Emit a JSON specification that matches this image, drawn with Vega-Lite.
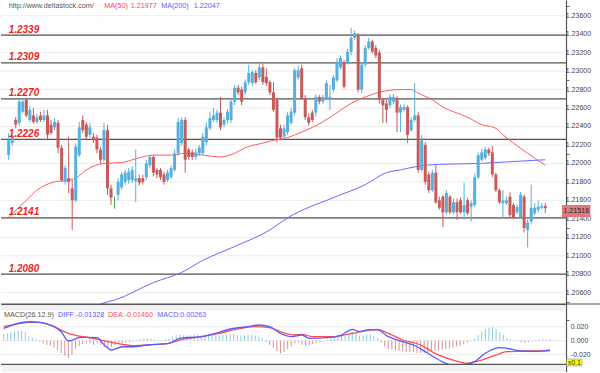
{
"$schema": "https://vega.github.io/schema/vega-lite/v6.json",
"background": "white",
"padding": 0,
"spacing": 0,
"bounds": "flush",
"config": {"view": {"stroke": null}, "font": "Liberation Sans", "axis": {"labelFont": "Liberation Sans", "labelOverlap": false}},
"datasets": {
"one": [{}],
"yticks": [
{"v":1.206,"lbl":"1.20600"},{"v":1.208,"lbl":"1.20800"},{"v":1.210,"lbl":"1.21000"},{"v":1.212,"lbl":"1.21200"},{"v":1.214,"lbl":"1.21400"},{"v":1.216,"lbl":"1.21600"},{"v":1.218,"lbl":"1.21800"},{"v":1.220,"lbl":"1.22000"},{"v":1.222,"lbl":"1.22200"},{"v":1.224,"lbl":"1.22400"},{"v":1.226,"lbl":"1.22600"},{"v":1.228,"lbl":"1.22800"},{"v":1.230,"lbl":"1.23000"},{"v":1.232,"lbl":"1.23200"},{"v":1.234,"lbl":"1.23400"},{"v":1.236,"lbl":"1.23600"}
],
"mticks": [
{"v":0.02,"lbl":"0.020"},{"v":0,"lbl":"0.000"},{"v":-0.02,"lbl":"-0.020"}
],
"candles": [
{"t":0,"o":1.2209,"h":1.2233,"l":1.2204,"c":1.2225,"m":0.010},
{"t":1,"o":1.2222,"h":1.2234,"l":1.2219,"c":1.2229,"m":0.011},
{"t":2,"o":1.2247,"h":1.2250,"l":1.2238,"c":1.2242,"m":0.012},
{"t":3,"o":1.2244,"h":1.2269,"l":1.2241,"c":1.2267,"m":0.013},
{"t":4,"o":1.2256,"h":1.2271,"l":1.2254,"c":1.2267,"m":0.014},
{"t":5,"o":1.2269,"h":1.2271,"l":1.2250,"c":1.2252,"m":0.014},
{"t":6,"o":1.2247,"h":1.2262,"l":1.2245,"c":1.2258,"m":0.012},
{"t":7,"o":1.2252,"h":1.2260,"l":1.2243,"c":1.2245,"m":0.006},
{"t":8,"o":1.2245,"h":1.2254,"l":1.2243,"c":1.2250,"m":0.004},
{"t":9,"o":1.2252,"h":1.2256,"l":1.2245,"c":1.2247,"m":0.002},
{"t":10,"o":1.2247,"h":1.2258,"l":1.2245,"c":1.2252,"m":-0.001},
{"t":11,"o":1.2252,"h":1.2258,"l":1.2225,"c":1.2231,"m":-0.004},
{"t":12,"o":1.2242,"h":1.2247,"l":1.2231,"c":1.2233,"m":-0.006},
{"t":13,"o":1.2239,"h":1.2249,"l":1.2236,"c":1.2245,"m":-0.007},
{"t":14,"o":1.2244,"h":1.2247,"l":1.2211,"c":1.2217,"m":-0.010},
{"t":15,"o":1.2217,"h":1.2220,"l":1.2180,"c":1.2182,"m":-0.014},
{"t":16,"o":1.2180,"h":1.2198,"l":1.2177,"c":1.2195,"m":-0.018},
{"t":17,"o":1.2184,"h":1.2229,"l":1.2168,"c":1.2180,"m":-0.022},
{"t":18,"o":1.2173,"h":1.2182,"l":1.2128,"c":1.2160,"m":-0.025},
{"t":19,"o":1.2160,"h":1.2222,"l":1.2158,"c":1.2218,"m":-0.020},
{"t":20,"o":1.2209,"h":1.2245,"l":1.2207,"c":1.2239,"m":-0.012},
{"t":21,"o":1.2247,"h":1.2252,"l":1.2233,"c":1.2236,"m":-0.008},
{"t":22,"o":1.2242,"h":1.2245,"l":1.2225,"c":1.2229,"m":-0.005},
{"t":23,"o":1.2231,"h":1.2244,"l":1.2228,"c":1.2239,"m":-0.004},
{"t":24,"o":1.2229,"h":1.2233,"l":1.2222,"c":1.2225,"m":-0.004},
{"t":25,"o":1.2228,"h":1.2231,"l":1.2211,"c":1.2215,"m":-0.006},
{"t":26,"o":1.2215,"h":1.2218,"l":1.2200,"c":1.2204,"m":-0.004},
{"t":27,"o":1.2204,"h":1.2244,"l":1.2202,"c":1.2236,"m":-0.006},
{"t":28,"o":1.2236,"h":1.2242,"l":1.2166,"c":1.2173,"m":-0.009},
{"t":29,"o":1.2173,"h":1.2177,"l":1.2155,"c":1.2163,"m":-0.011},
{"t":30,"o":1.2157,"h":1.2164,"l":1.2151,"c":1.2157,"m":-0.009},
{"t":31,"o":1.2166,"h":1.2184,"l":1.2160,"c":1.2180,"m":-0.007},
{"t":32,"o":1.2174,"h":1.2191,"l":1.2171,"c":1.2188,"m":-0.005},
{"t":33,"o":1.2180,"h":1.2193,"l":1.2177,"c":1.2190,"m":-0.004},
{"t":34,"o":1.2182,"h":1.2195,"l":1.2178,"c":1.2191,"m":-0.003},
{"t":35,"o":1.2182,"h":1.2197,"l":1.2179,"c":1.2193,"m":-0.002},
{"t":36,"o":1.2181,"h":1.2215,"l":1.2158,"c":1.2184,"m":-0.001},
{"t":37,"o":1.2184,"h":1.2188,"l":1.2176,"c":1.2179,"m":0.001},
{"t":38,"o":1.2184,"h":1.2188,"l":1.2177,"c":1.2180,"m":0.002},
{"t":39,"o":1.2185,"h":1.2204,"l":1.2182,"c":1.2200,"m":0.004},
{"t":40,"o":1.2198,"h":1.2209,"l":1.2195,"c":1.2207,"m":0.004},
{"t":41,"o":1.2207,"h":1.2209,"l":1.2186,"c":1.2190,"m":0.003},
{"t":42,"o":1.2193,"h":1.2195,"l":1.2184,"c":1.2188,"m":0.002},
{"t":43,"o":1.2193,"h":1.2195,"l":1.2182,"c":1.2185,"m":0.001},
{"t":44,"o":1.2188,"h":1.2191,"l":1.2177,"c":1.2180,"m":0.001},
{"t":45,"o":1.2182,"h":1.2193,"l":1.2180,"c":1.2190,"m":0.002},
{"t":46,"o":1.2185,"h":1.2198,"l":1.2183,"c":1.2195,"m":0.003},
{"t":47,"o":1.2193,"h":1.2215,"l":1.2191,"c":1.2211,"m":0.006},
{"t":48,"o":1.2211,"h":1.2249,"l":1.2208,"c":1.2245,"m":0.009},
{"t":49,"o":1.2222,"h":1.2250,"l":1.2219,"c":1.2247,"m":0.009},
{"t":50,"o":1.2247,"h":1.2250,"l":1.2190,"c":1.2204,"m":0.008},
{"t":51,"o":1.2215,"h":1.2217,"l":1.2204,"c":1.2207,"m":0.008},
{"t":52,"o":1.2212,"h":1.2215,"l":1.2204,"c":1.2207,"m":0.008},
{"t":53,"o":1.2207,"h":1.2216,"l":1.2204,"c":1.2212,"m":0.009},
{"t":54,"o":1.2211,"h":1.2220,"l":1.2208,"c":1.2217,"m":0.009},
{"t":55,"o":1.2211,"h":1.2233,"l":1.2209,"c":1.2229,"m":0.008},
{"t":56,"o":1.2223,"h":1.2244,"l":1.2220,"c":1.2239,"m":0.009},
{"t":57,"o":1.2238,"h":1.2256,"l":1.2236,"c":1.2249,"m":0.009},
{"t":58,"o":1.2247,"h":1.2260,"l":1.2245,"c":1.2252,"m":0.008},
{"t":59,"o":1.2247,"h":1.2258,"l":1.2244,"c":1.2255,"m":0.008},
{"t":60,"o":1.2255,"h":1.2272,"l":1.2236,"c":1.2239,"m":0.008},
{"t":61,"o":1.2242,"h":1.2250,"l":1.2239,"c":1.2247,"m":0.008},
{"t":62,"o":1.2247,"h":1.2259,"l":1.2244,"c":1.2256,"m":0.009},
{"t":63,"o":1.2247,"h":1.2270,"l":1.2244,"c":1.2267,"m":0.010},
{"t":64,"o":1.2267,"h":1.2285,"l":1.2263,"c":1.2282,"m":0.010},
{"t":65,"o":1.2282,"h":1.2285,"l":1.2274,"c":1.2277,"m":0.008},
{"t":66,"o":1.2280,"h":1.2283,"l":1.2263,"c":1.2267,"m":0.008},
{"t":67,"o":1.2277,"h":1.2291,"l":1.2274,"c":1.2288,"m":0.008},
{"t":68,"o":1.2288,"h":1.2307,"l":1.2285,"c":1.2298,"m":0.009},
{"t":69,"o":1.2287,"h":1.2301,"l":1.2284,"c":1.2299,"m":0.008},
{"t":70,"o":1.2298,"h":1.2301,"l":1.2286,"c":1.2288,"m":0.007},
{"t":71,"o":1.2293,"h":1.2308,"l":1.2290,"c":1.2304,"m":0.006},
{"t":72,"o":1.2304,"h":1.2308,"l":1.2285,"c":1.2288,"m":0.004},
{"t":73,"o":1.2294,"h":1.2303,"l":1.2284,"c":1.2287,"m":-0.002},
{"t":74,"o":1.2288,"h":1.2290,"l":1.2274,"c":1.2277,"m":-0.006},
{"t":75,"o":1.2277,"h":1.2288,"l":1.2256,"c":1.2258,"m":-0.010},
{"t":76,"o":1.2269,"h":1.2271,"l":1.2223,"c":1.2228,"m":-0.015},
{"t":77,"o":1.2238,"h":1.2242,"l":1.2225,"c":1.2228,"m":-0.018},
{"t":78,"o":1.2229,"h":1.2242,"l":1.2225,"c":1.2238,"m":-0.016},
{"t":79,"o":1.2234,"h":1.2256,"l":1.2231,"c":1.2252,"m":-0.012},
{"t":80,"o":1.2244,"h":1.2260,"l":1.2242,"c":1.2256,"m":-0.008},
{"t":81,"o":1.2255,"h":1.2303,"l":1.2252,"c":1.2301,"m":-0.004},
{"t":82,"o":1.2293,"h":1.2306,"l":1.2290,"c":1.2301,"m":-0.003},
{"t":83,"o":1.2303,"h":1.2307,"l":1.2269,"c":1.2271,"m":-0.006},
{"t":84,"o":1.2271,"h":1.2274,"l":1.2247,"c":1.2250,"m":-0.008},
{"t":85,"o":1.2250,"h":1.2254,"l":1.2241,"c":1.2244,"m":-0.006},
{"t":86,"o":1.2255,"h":1.2258,"l":1.2245,"c":1.2247,"m":-0.005},
{"t":87,"o":1.2255,"h":1.2275,"l":1.2251,"c":1.2272,"m":-0.003},
{"t":88,"o":1.2272,"h":1.2274,"l":1.2264,"c":1.2267,"m":-0.002},
{"t":89,"o":1.2267,"h":1.2274,"l":1.2264,"c":1.2272,"m":-0.001},
{"t":90,"o":1.2271,"h":1.2290,"l":1.2269,"c":1.2287,"m":0.002},
{"t":91,"o":1.2269,"h":1.2285,"l":1.2258,"c":1.2272,"m":0.004},
{"t":92,"o":1.2280,"h":1.2296,"l":1.2277,"c":1.2293,"m":0.006},
{"t":93,"o":1.2290,"h":1.2314,"l":1.2288,"c":1.2310,"m":0.008},
{"t":94,"o":1.2304,"h":1.2317,"l":1.2302,"c":1.2314,"m":0.009},
{"t":95,"o":1.2309,"h":1.2312,"l":1.2281,"c":1.2283,"m":0.007},
{"t":96,"o":1.2309,"h":1.2324,"l":1.2307,"c":1.2321,"m":0.010},
{"t":97,"o":1.2321,"h":1.2347,"l":1.2317,"c":1.2336,"m":0.013},
{"t":98,"o":1.2336,"h":1.2344,"l":1.2334,"c":1.2341,"m":0.012},
{"t":99,"o":1.2339,"h":1.2341,"l":1.2277,"c":1.2280,"m":0.007},
{"t":100,"o":1.2280,"h":1.2310,"l":1.2276,"c":1.2307,"m":0.008},
{"t":101,"o":1.2307,"h":1.2328,"l":1.2304,"c":1.2325,"m":0.009},
{"t":102,"o":1.2325,"h":1.2336,"l":1.2323,"c":1.2332,"m":0.009},
{"t":103,"o":1.2332,"h":1.2334,"l":1.2319,"c":1.2321,"m":0.007},
{"t":104,"o":1.2325,"h":1.2328,"l":1.2314,"c":1.2317,"m":0.004},
{"t":105,"o":1.2320,"h":1.2323,"l":1.2265,"c":1.2269,"m":-0.003},
{"t":106,"o":1.2269,"h":1.2271,"l":1.2244,"c":1.2263,"m":-0.008},
{"t":107,"o":1.2265,"h":1.2269,"l":1.2244,"c":1.2258,"m":-0.012},
{"t":108,"o":1.2263,"h":1.2275,"l":1.2260,"c":1.2272,"m":-0.013},
{"t":109,"o":1.2267,"h":1.2275,"l":1.2264,"c":1.2272,"m":-0.014},
{"t":110,"o":1.2271,"h":1.2273,"l":1.2234,"c":1.2255,"m":-0.015},
{"t":111,"o":1.2255,"h":1.2264,"l":1.2234,"c":1.2261,"m":-0.015},
{"t":112,"o":1.2258,"h":1.2264,"l":1.2256,"c":1.2261,"m":-0.016},
{"t":113,"o":1.2261,"h":1.2263,"l":1.2222,"c":1.2231,"m":-0.016},
{"t":114,"o":1.2236,"h":1.2250,"l":1.2234,"c":1.2247,"m":-0.017},
{"t":115,"o":1.2247,"h":1.2287,"l":1.2245,"c":1.2252,"m":-0.018},
{"t":116,"o":1.2252,"h":1.2256,"l":1.2190,"c":1.2193,"m":-0.018},
{"t":117,"o":1.2193,"h":1.2231,"l":1.2191,"c":1.2225,"m":-0.017},
{"t":118,"o":1.2220,"h":1.2223,"l":1.2177,"c":1.2180,"m":-0.017},
{"t":119,"o":1.2188,"h":1.2191,"l":1.2168,"c":1.2171,"m":-0.016},
{"t":120,"o":1.2171,"h":1.2193,"l":1.2169,"c":1.2190,"m":-0.015},
{"t":121,"o":1.2190,"h":1.2198,"l":1.2156,"c":1.2158,"m":-0.014},
{"t":122,"o":1.2160,"h":1.2164,"l":1.2150,"c":1.2152,"m":-0.013},
{"t":123,"o":1.2164,"h":1.2166,"l":1.2131,"c":1.2147,"m":-0.012},
{"t":124,"o":1.2147,"h":1.2171,"l":1.2145,"c":1.2168,"m":-0.011},
{"t":125,"o":1.2164,"h":1.2166,"l":1.2145,"c":1.2147,"m":-0.010},
{"t":126,"o":1.2147,"h":1.2162,"l":1.2145,"c":1.2158,"m":-0.008},
{"t":127,"o":1.2158,"h":1.2162,"l":1.2139,"c":1.2147,"m":-0.007},
{"t":128,"o":1.2160,"h":1.2163,"l":1.2145,"c":1.2147,"m":-0.005},
{"t":129,"o":1.2147,"h":1.2179,"l":1.2139,"c":1.2155,"m":-0.003},
{"t":130,"o":1.2160,"h":1.2163,"l":1.2144,"c":1.2146,"m":-0.001},
{"t":131,"o":1.2153,"h":1.2160,"l":1.2137,"c":1.2157,"m":0.003},
{"t":132,"o":1.2155,"h":1.2189,"l":1.2153,"c":1.2185,"m":0.008},
{"t":133,"o":1.2185,"h":1.2212,"l":1.2183,"c":1.2209,"m":0.013},
{"t":134,"o":1.2204,"h":1.2216,"l":1.2202,"c":1.2212,"m":0.017},
{"t":135,"o":1.2206,"h":1.2218,"l":1.2204,"c":1.2215,"m":0.019},
{"t":136,"o":1.2215,"h":1.2217,"l":1.2208,"c":1.2211,"m":0.020},
{"t":137,"o":1.2212,"h":1.2219,"l":1.2185,"c":1.2188,"m":0.017},
{"t":138,"o":1.2188,"h":1.2190,"l":1.2169,"c":1.2171,"m":0.012},
{"t":139,"o":1.2171,"h":1.2173,"l":1.2156,"c":1.2158,"m":0.008},
{"t":140,"o":1.2157,"h":1.2171,"l":1.2141,"c":1.2160,"m":0.004},
{"t":141,"o":1.2157,"h":1.2164,"l":1.2155,"c":1.2160,"m":0.002},
{"t":142,"o":1.2164,"h":1.2169,"l":1.2142,"c":1.2144,"m":0.001},
{"t":143,"o":1.2155,"h":1.2157,"l":1.2140,"c":1.2142,"m":-0.001},
{"t":144,"o":1.2147,"h":1.2156,"l":1.2145,"c":1.2153,"m":-0.002},
{"t":145,"o":1.2142,"h":1.2169,"l":1.2140,"c":1.2166,"m":-0.003},
{"t":146,"o":1.2164,"h":1.2166,"l":1.2125,"c":1.2130,"m":-0.002},
{"t":147,"o":1.2128,"h":1.2139,"l":1.2109,"c":1.2136,"m":-0.001},
{"t":148,"o":1.2137,"h":1.2177,"l":1.2134,"c":1.2152,"m":0.001},
{"t":149,"o":1.2146,"h":1.2157,"l":1.2144,"c":1.2152,"m":0.002},
{"t":150,"o":1.2150,"h":1.2160,"l":1.2147,"c":1.2153,"m":0.003},
{"t":151,"o":1.2152,"h":1.2157,"l":1.2150,"c":1.2154,"m":0.002},
{"t":152,"o":1.2154,"h":1.2157,"l":1.2146,"c":1.21516,"m":0.003}
],
"ma50": [
{"t":0,"p":1.2142},{"t":5,"p":1.2160},{"t":8,"p":1.2171},{"t":13,"p":1.2180},{"t":17,"p":1.2182},{"t":19,"p":1.2184},{"t":22,"p":1.2193},{"t":27,"p":1.2200},{"t":32,"p":1.2201},{"t":36,"p":1.2205},{"t":41,"p":1.2209},{"t":46,"p":1.2209},{"t":50,"p":1.2211},{"t":55,"p":1.2209},{"t":60,"p":1.2207},{"t":64,"p":1.2211},{"t":67,"p":1.2217},{"t":72,"p":1.2222},{"t":75,"p":1.2225},{"t":79,"p":1.2228},{"t":83,"p":1.2234},{"t":86,"p":1.2239},{"t":89,"p":1.2245},{"t":93,"p":1.2255},{"t":97,"p":1.2265},{"t":101,"p":1.2272},{"t":105,"p":1.2277},{"t":111,"p":1.2280},{"t":114,"p":1.2280},{"t":116,"p":1.2276},{"t":120,"p":1.2269},{"t":123,"p":1.2261},{"t":126,"p":1.2256},{"t":130,"p":1.2250},{"t":134,"p":1.2242},{"t":138,"p":1.2238},{"t":140,"p":1.2231},{"t":143,"p":1.2222},{"t":147,"p":1.2211},{"t":150,"p":1.2203},{"t":152,"p":1.2198}
],
"ma200": [
{"t":22,"p":1.2040},{"t":27,"p":1.2049},{"t":30,"p":1.2052},{"t":41,"p":1.2071},{"t":49,"p":1.2082},{"t":55,"p":1.2095},{"t":64,"p":1.2110},{"t":74,"p":1.2128},{"t":79,"p":1.2141},{"t":92,"p":1.2163},{"t":101,"p":1.2177},{"t":107,"p":1.2190},{"t":111,"p":1.2193},{"t":116,"p":1.2197},{"t":122,"p":1.2199},{"t":134,"p":1.2200},{"t":138,"p":1.2201},{"t":152,"p":1.2204}
],
"diff": [
{"t":0,"v":0.0179},{"t":3,"v":0.0237},{"t":7,"v":0.0274},{"t":10,"v":0.0266},{"t":13,"v":0.0227},{"t":16,"v":0.0130},{"t":18,"v":-0.0004},{"t":21,"v":0.0043},{"t":23,"v":0.0049},{"t":26,"v":0.0043},{"t":28,"v":-0.0062},{"t":30,"v":-0.0134},{"t":33,"v":-0.0087},{"t":36,"v":-0.0087},{"t":40,"v":-0.0062},{"t":46,"v":-0.0038},{"t":49,"v":0.0035},{"t":55,"v":0.0058},{"t":59,"v":0.0107},{"t":63,"v":0.0169},{"t":68,"v":0.0202},{"t":71,"v":0.0227},{"t":74,"v":0.0202},{"t":77,"v":0.0107},{"t":80,"v":0.0058},{"t":83,"v":0.0082},{"t":85,"v":0.0035},{"t":90,"v":0.0043},{"t":94,"v":0.0082},{"t":97,"v":0.0165},{"t":99,"v":0.0130},{"t":101,"v":0.0155},{"t":104,"v":0.0155},{"t":107,"v":0.0058},{"t":111,"v":-0.0014},{"t":114,"v":-0.0062},{"t":118,"v":-0.0182},{"t":122,"v":-0.0303},{"t":124,"v":-0.0345},{"t":126,"v":-0.0360},{"t":128,"v":-0.0345},{"t":131,"v":-0.0303},{"t":134,"v":-0.0182},{"t":138,"v":-0.0101},{"t":140,"v":-0.0110},{"t":144,"v":-0.0149},{"t":148,"v":-0.0155},{"t":152,"v":-0.0133}
],
"dea": [
{"t":0,"v":0.0202},{"t":3,"v":0.0237},{"t":7,"v":0.0266},{"t":10,"v":0.0266},{"t":14,"v":0.0202},{"t":18,"v":0.0107},{"t":22,"v":0.0058},{"t":25,"v":0.0035},{"t":29,"v":-0.0014},{"t":33,"v":-0.0052},{"t":36,"v":-0.0072},{"t":40,"v":-0.0062},{"t":46,"v":-0.0038},{"t":49,"v":0.0010},{"t":55,"v":0.0058},{"t":60,"v":0.0107},{"t":64,"v":0.0155},{"t":70,"v":0.0202},{"t":74,"v":0.0188},{"t":77,"v":0.0130},{"t":81,"v":0.0082},{"t":83,"v":0.0092},{"t":86,"v":0.0058},{"t":92,"v":0.0058},{"t":97,"v":0.0107},{"t":104,"v":0.0165},{"t":107,"v":0.0107},{"t":111,"v":0.0010},{"t":116,"v":-0.0062},{"t":120,"v":-0.0182},{"t":125,"v":-0.0279},{"t":129,"v":-0.0326},{"t":133,"v":-0.0279},{"t":137,"v":-0.0206},{"t":140,"v":-0.0159},{"t":146,"v":-0.0149},{"t":152,"v":-0.0146}
],
"levels": [
{"p":1.2339,"lbl":"1.2339"},{"p":1.2309,"lbl":"1.2309"},{"p":1.2270,"lbl":"1.2270"},{"p":1.2226,"lbl":"1.2226"},{"p":1.2141,"lbl":"1.2141"},{"p":1.2080,"lbl":"1.2080"}
]
},
"vconcat": [
{
"width": 565, "height": 304,
"layer": [
{"data": {"name": "yticks"}, "mark": {"type": "rule", "color": "#ececec", "strokeWidth": 1},
 "encoding": {"y": {"field": "v", "type": "quantitative", "scale": {"domain": [1.204775, 1.2377], "nice": false, "zero": false},
        "axis": {"orient": "right", "title": null,
          "values": [1.205,1.206,1.207,1.208,1.209,1.21,1.211,1.212,1.213,1.214,1.215,1.216,1.217,1.218,1.219,1.22,1.221,1.222,1.223,1.224,1.225,1.226,1.227,1.228,1.229,1.23,1.231,1.232,1.233,1.234,1.235,1.236,1.237],
          "labels": false, "grid": false,
          "tickSize": 3, "tickColor": "#666666", "domainColor": "#555555", "domainWidth": 1.2}}}},
{"data": {"name": "levels"}, "mark": {"type": "rule", "color": "#555555", "strokeWidth": 1.2},
 "encoding": {"y": {"field": "p", "type": "quantitative"}}},
{"data": {"name": "ma200"}, "mark": {"type": "line", "color": "#6a6aff", "strokeWidth": 1, "interpolate": "monotone", "clip": true},
 "encoding": {
  "x": {"field": "t", "type": "quantitative", "scale": {"domain": [-0.75, 156.45], "nice": false, "zero": false},
        "axis": {"title": null, "labels": false, "ticks": false, "grid": false, "domain": true, "domainColor": "#555555", "domainWidth": 1.2}},
  "y": {"field": "p", "type": "quantitative"}}},
{"data": {"name": "ma50"}, "mark": {"type": "line", "color": "#ff5c5c", "strokeWidth": 1, "interpolate": "monotone", "clip": true},
 "encoding": {"x": {"field": "t", "type": "quantitative"}, "y": {"field": "p", "type": "quantitative"}}},
{"data": {"name": "candles"}, "mark": {"type": "rule", "strokeWidth": 1, "clip": true},
 "encoding": {"x": {"field": "t", "type": "quantitative"},
  "y": {"field": "l", "type": "quantitative"}, "y2": {"field": "h"},
  "color": {"condition": [{"test": "datum.c > datum.o", "value": "#55b0e0"}, {"test": "datum.c == datum.o", "value": "#3aa53a"}], "value": "#c85a5a"}}},
{"data": {"name": "candles"}, "mark": {"type": "bar", "size": 3, "clip": true},
 "encoding": {"x": {"field": "t", "type": "quantitative"},
  "y": {"field": "o", "type": "quantitative"}, "y2": {"field": "c"},
  "color": {"condition": [{"test": "datum.c > datum.o", "value": "#55b0e0"}, {"test": "datum.c == datum.o", "value": "#3aa53a"}], "value": "#c85a5a"}}},
{"data": {"name": "levels"}, "mark": {"type": "text", "align": "left", "baseline": "alphabetic", "dy": -2.5, "fontSize": 10, "fontWeight": "bold", "fontStyle": "italic", "color": "#f01e1e"},
 "encoding": {"x": {"datum": 0}, "y": {"field": "p", "type": "quantitative"}, "text": {"field": "lbl"}}},
{"data": {"name": "yticks"}, "mark": {"type": "text", "align": "left", "baseline": "middle", "fontSize": 7, "color": "#444444", "clip": false},
 "encoding": {"x": {"datum": 157.8}, "y": {"field": "v", "type": "quantitative"}, "text": {"field": "lbl"}}},
{"data": {"name": "one"}, "mark": {"type": "text", "align": "left", "baseline": "middle", "fontSize": 7.2, "color": "#555555"},
 "encoding": {"x": {"datum": 0}, "y": {"datum": 1.23708}, "text": {"value": "http://www.deltastock.com/"}}},
{"data": {"name": "one"}, "mark": {"type": "text", "align": "left", "baseline": "middle", "fontSize": 7.2, "color": "#ff4060"},
 "encoding": {"x": {"datum": 27.1}, "y": {"datum": 1.23708}, "text": {"value": "MA(50)"}}},
{"data": {"name": "one"}, "mark": {"type": "text", "align": "left", "baseline": "middle", "fontSize": 7.2, "color": "#ff4060"},
 "encoding": {"x": {"datum": 34.6}, "y": {"datum": 1.23708}, "text": {"value": "1.21977"}}},
{"data": {"name": "one"}, "mark": {"type": "text", "align": "left", "baseline": "middle", "fontSize": 7.2, "color": "#5a5aff"},
 "encoding": {"x": {"datum": 43.2}, "y": {"datum": 1.23708}, "text": {"value": "MA(200)"}}},
{"data": {"name": "one"}, "mark": {"type": "text", "align": "left", "baseline": "middle", "fontSize": 7.2, "color": "#5a5aff"},
 "encoding": {"x": {"datum": 52.4}, "y": {"datum": 1.23708}, "text": {"value": "1.22047"}}},
{"data": {"name": "one"}, "mark": {"type": "rect", "color": "#e07a7a", "clip": false},
 "encoding": {"x": {"datum": 156.7}, "x2": {"datum": 164.8}, "y": {"datum": 1.2155}, "y2": {"datum": 1.2142}}},
{"data": {"name": "one"}, "mark": {"type": "text", "align": "center", "baseline": "middle", "fontSize": 7.2, "color": "#2a2a2a", "clip": false},
 "encoding": {"x": {"datum": 160.75}, "y": {"datum": 1.21485}, "text": {"value": "1.21516"}}}
]
},
{
"width": 565, "height": 68,
"layer": [
{"data": {"name": "mticks"}, "mark": {"type": "rule", "color": "#ececec", "strokeWidth": 1},
 "encoding": {"y": {"field": "v", "type": "quantitative", "scale": {"domain": [-0.0452, 0.0530], "nice": false, "zero": false},
        "axis": {"orient": "right", "title": null,
          "values": [-0.03, -0.02, -0.01, 0, 0.01, 0.02, 0.03],
          "labels": false, "grid": false,
          "tickSize": 3, "tickColor": "#666666", "domainColor": "#555555", "domainWidth": 1.2}}}},
{"data": {"name": "one"}, "mark": {"type": "rect", "color": "#f0f0f0"},
 "encoding": {"x": {"datum": -0.75}, "x2": {"datum": 156.45}, "y": {"datum": 0.0516}, "y2": {"datum": 0.0436}}},
{"data": {"name": "candles"}, "mark": {"type": "rule", "strokeWidth": 1, "clip": true},
 "encoding": {
  "x": {"field": "t", "type": "quantitative", "scale": {"domain": [-0.75, 156.45], "nice": false, "zero": false},
        "axis": {"title": null, "labels": false, "ticks": false, "grid": false, "domain": true, "domainColor": "#555555", "domainWidth": 1.2}},
  "y": {"field": "m", "type": "quantitative"},
  "y2": {"datum": 0},
  "color": {"condition": {"test": "datum.m > 0", "value": "#8ec8e8"}, "value": "#d99090"}}},
{"data": {"name": "dea"}, "mark": {"type": "line", "color": "#ff5050", "strokeWidth": 1.3, "interpolate": "monotone", "clip": true},
 "encoding": {"x": {"field": "t", "type": "quantitative"}, "y": {"field": "v", "type": "quantitative"}}},
{"data": {"name": "diff"}, "mark": {"type": "line", "color": "#5a5aff", "strokeWidth": 1.3, "interpolate": "monotone", "clip": true},
 "encoding": {"x": {"field": "t", "type": "quantitative"}, "y": {"field": "v", "type": "quantitative"}}},
{"data": {"name": "one"}, "mark": {"type": "rect", "color": "#f2f2f2"},
 "encoding": {"x": {"datum": -0.75}, "x2": {"datum": 156.45}, "y": {"datum": -0.0341}, "y2": {"datum": -0.0452}}},
{"data": {"name": "one"}, "mark": {"type": "rule", "color": "#555555", "strokeWidth": 1.2},
 "encoding": {"x": {"datum": -0.75}, "x2": {"datum": 156.45}, "y": {"datum": -0.0341}}},
{"data": {"name": "one"}, "mark": {"type": "rule", "color": "#555555", "strokeWidth": 1.2, "clip": false},
 "encoding": {"x": {"datum": -0.75}, "x2": {"datum": 166.3}, "y": {"datum": 0.0530}}},
{"data": {"name": "mticks"}, "mark": {"type": "text", "align": "left", "baseline": "middle", "fontSize": 7, "color": "#444444", "clip": false},
 "encoding": {"x": {"datum": 157.8}, "y": {"field": "v", "type": "quantitative"}, "text": {"field": "lbl"}}},
{"data": {"name": "one"}, "mark": {"type": "text", "align": "left", "baseline": "middle", "fontSize": 7.2, "color": "#555555"},
 "encoding": {"x": {"datum": 0.1}, "y": {"datum": 0.0371}, "text": {"value": "MACD(26.12.9)"}}},
{"data": {"name": "one"}, "mark": {"type": "text", "align": "left", "baseline": "middle", "fontSize": 7.2, "color": "#5a5aff"},
 "encoding": {"x": {"datum": 15.1}, "y": {"datum": 0.0371}, "text": {"value": "DIFF:-0.01328"}}},
{"data": {"name": "one"}, "mark": {"type": "text", "align": "left", "baseline": "middle", "fontSize": 7.2, "color": "#ff4a4a"},
 "encoding": {"x": {"datum": 29.0}, "y": {"datum": 0.0371}, "text": {"value": "DEA:-0.01460"}}},
{"data": {"name": "one"}, "mark": {"type": "text", "align": "left", "baseline": "middle", "fontSize": 7.2, "color": "#6a5aff"},
 "encoding": {"x": {"datum": 42.7}, "y": {"datum": 0.0371}, "text": {"value": "MACD:0.00263"}}},
{"data": {"name": "one"}, "mark": {"type": "rect", "color": "#ffff00", "stroke": "#888888", "strokeWidth": 0.5, "clip": false},
 "encoding": {"x": {"datum": 156.6}, "x2": {"datum": 160.9}, "y": {"datum": -0.0264}, "y2": {"datum": -0.0365}}},
{"data": {"name": "one"}, "mark": {"type": "text", "align": "center", "baseline": "middle", "fontSize": 7, "color": "#333333", "clip": false},
 "encoding": {"x": {"datum": 158.75}, "y": {"datum": -0.0315}, "text": {"value": "x0.1"}}}
]
}
]
}
